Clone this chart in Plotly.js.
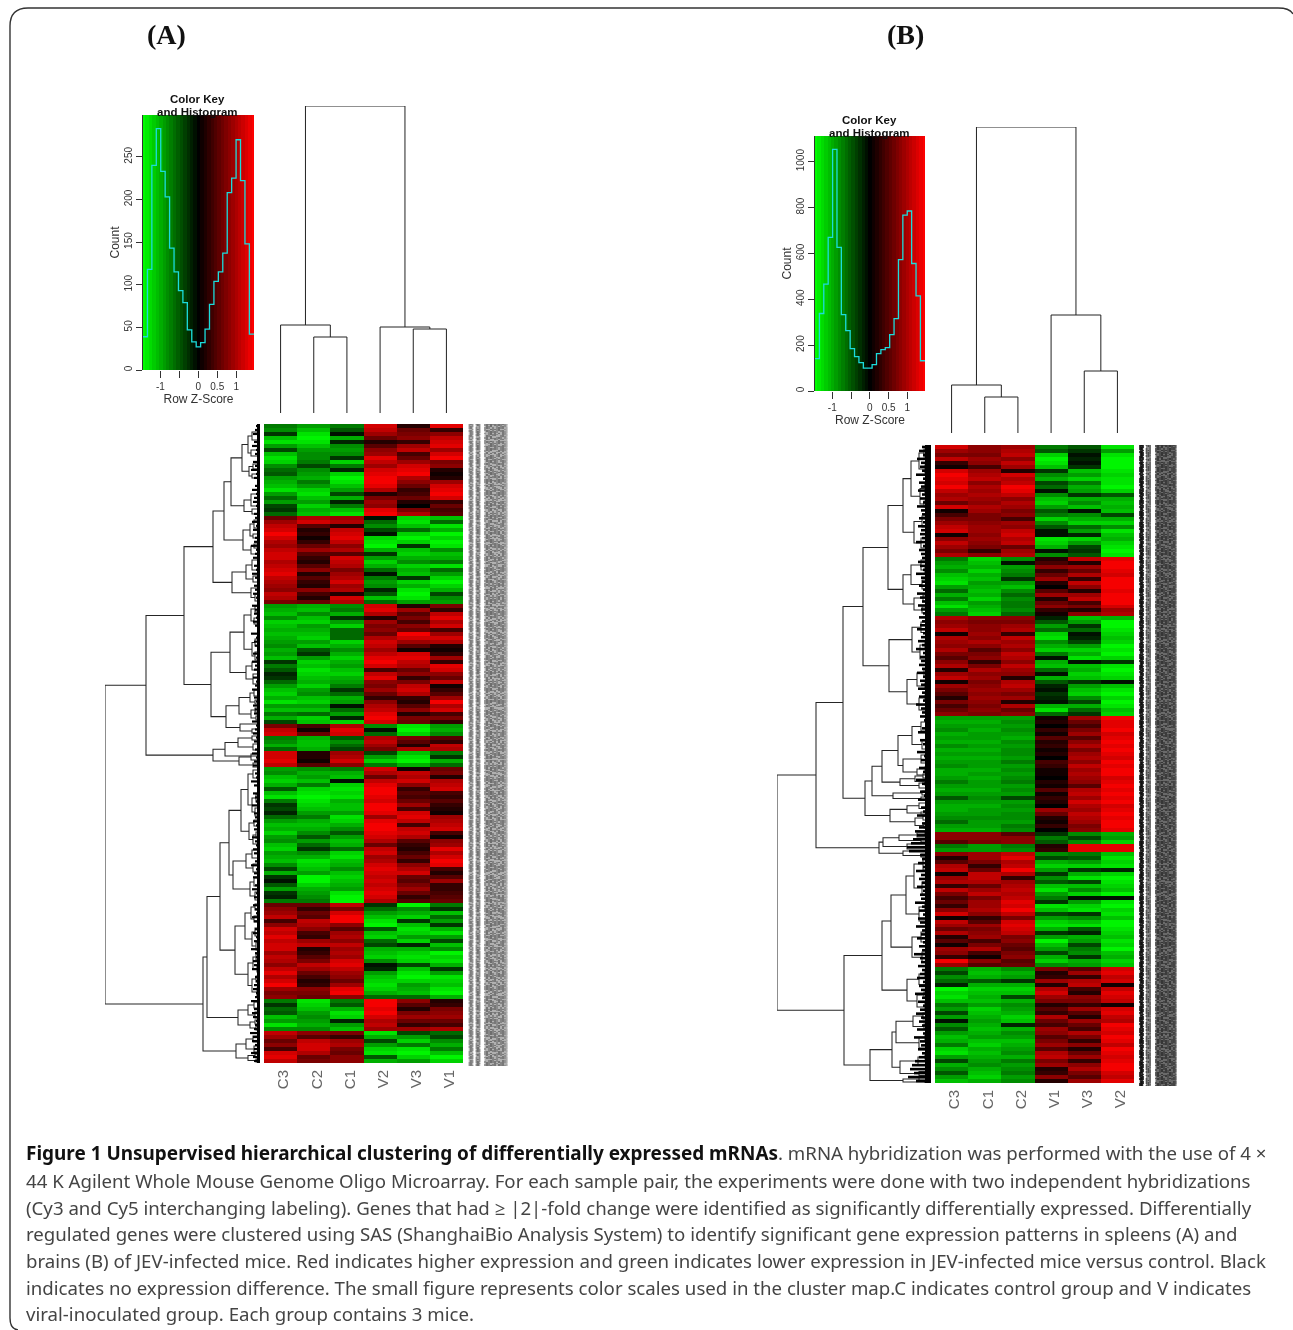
<!DOCTYPE html>
<html><head><meta charset="utf-8">
<script src="https://cdn.plot.ly/plotly-3.0.1.min.js"></script>
<style>html,body{margin:0;padding:0;background:#fff;overflow:hidden}#chart{width:1293px;height:1330px;filter:blur(0.45px)}</style>
</head><body><div id="chart"></div>
<script>
// ---------- sample names ----------
const samplesA = ["C3","C2","C1","V2","V3","V1"];
const samplesB = ["C3","C1","C2","V1","V3","V2"];

// ---------- heat map A, tenths of a row z-score, one line per cluster block ----------
const a_C3 = [
-7,-8,-3,-11,-13,-9,-4,-11,-13,-12,-8,-6,-5,-9,-10,-11,-13,-9,-6,-9,-4,-3,-6,
6,9,11,12,14,12,10,9,11,12,12,10,11,12,13,11,10,9,8,11,10,7,
-9,-10,-11,-8,-12,-11,-10,-11,-10,-9,-8,-10,-9,-11,-3,-7,-5,-2,-3,-6,-9,-11,-12,-10,-13,-9,-11,-7,-10,-4,
7,11,12,
-7,-8,-10,-6,
12,12,13,11,
-9,-8,-11,-12,-10,-5,-11,-13,-7,-3,-4,-2,-6,-9,-11,-10,-12,-9,-8,-11,-12,-9,-10,-11,-8,-4,-10,-3,-1,-5,-9,-3,-2,-7,
6,8,9,11,4,8,12,11,13,11,12,12,9,11,10,8,11,13,10,12,14,9,7,8,
-7,-3,-6,-5,-11,-9,-13,-8,
11,9,6,8,4,12,13,11];
const a_C2 = [
-9,-11,-13,-14,-13,-11,-9,-8,-8,-7,-4,-8,-9,-10,-7,-9,-12,-13,-11,-9,-12,-10,-11,
10,12,5,2,3,1,3,6,9,5,3,2,5,8,2,5,3,2,8,4,2,6,
-10,-11,-8,-11,-12,-9,-10,-11,-12,-9,-11,-5,-3,-9,-12,-11,-13,-12,-11,-10,-12,-9,-8,-11,-12,-9,-11,-6,-12,-11,
4,1,6,
-10,-11,-11,-10,
2,2,1,5,
-8,-10,-9,-11,-7,-12,-13,-14,-13,-12,-11,-9,-7,-10,-11,-10,-8,-5,-9,-6,-3,-8,-10,-13,-12,-11,-9,-14,-14,-12,-10,-9,-8,-7,
6,3,6,5,11,10,8,4,3,9,11,2,3,5,7,11,9,6,4,2,3,8,7,6,
-13,-12,-11,-9,-8,-9,-10,-8,
8,5,11,12,12,10,6,7];
const a_C1 = [
-7,-5,-1,-10,-2,-8,-9,-8,-3,-12,-7,-2,-12,-14,-13,-11,-9,-4,-10,-2,-7,-11,-13,
9,10,2,11,12,13,11,8,10,5,12,11,10,7,9,10,12,9,10,2,12,10,
-8,-7,-10,-3,-9,-12,-6,-6,-6,-12,-10,-8,-10,-12,-10,-9,-11,-12,-10,-9,-7,-3,-6,-10,-9,-1,-6,-9,-2,-12,
10,13,12,
-5,-8,-6,-4,
9,10,12,8,
-7,-10,-11,-1,-12,-13,-12,-13,-10,-11,-11,-9,-13,-12,-10,-8,-5,-9,-11,-10,-6,-12,-13,-11,-10,-8,-11,-12,-11,-10,-9,-13,-14,-14,
11,7,12,14,14,8,5,9,10,8,11,9,10,9,12,13,11,9,8,6,9,13,14,8,
-7,-5,-10,-13,-12,-2,-9,-11,
7,3,9,10,7,6,8,8];
const a_V2 = [
12,11,9,6,2,5,8,9,13,11,9,12,13,14,14,13,10,2,7,9,8,13,14,
-1,-6,-8,-4,-1,-12,-13,-14,-10,-3,-9,-12,-10,-6,-1,-7,-9,-8,-2,-5,-11,-6,
12,13,10,2,9,7,8,6,10,12,11,9,11,13,14,12,4,11,13,8,7,9,6,3,8,10,11,13,14,12,
-8,-1,-6,
10,11,9,7,
-4,-9,-12,-7,
12,10,6,11,13,14,14,13,12,14,14,13,9,13,14,14,13,12,10,6,11,12,9,10,12,13,12,11,12,11,12,13,12,10,
-3,-6,-9,-11,-13,-14,-5,-11,-12,-6,-4,-10,-11,-12,-8,-1,-2,-9,-11,-12,-13,-12,-10,-6,
14,14,13,14,12,10,11,9,
-13,-10,-4,-9,-12,-13,-5,-10];
const a_V3 = [
2,6,7,8,3,9,11,4,6,9,12,13,14,10,8,6,3,4,6,2,0,7,10,
-12,-13,-11,-6,-12,-14,-12,-3,-11,-12,-10,-8,-12,-10,-11,-3,-12,-10,-13,-14,-13,-9,
2,9,5,7,4,8,6,14,12,9,5,1,12,13,11,10,6,8,3,7,11,12,10,3,2,5,8,2,7,6,
-13,-14,-12,
7,5,2,10,
-11,-13,-14,-10,
1,11,10,12,8,3,5,4,6,9,4,12,13,11,4,11,12,10,5,3,2,4,6,3,8,10,12,6,5,7,9,6,3,5,
-14,-8,-10,-12,-3,-11,-13,-12,-9,-12,-2,-10,-12,-13,-12,-4,-11,-13,-14,-12,-9,-10,-11,-6,
8,5,2,7,9,6,3,9,
-4,-9,-12,-7,-13,-14,-12,-9];
const a_V1 = [
13,3,8,11,12,13,9,12,14,7,8,2,1,2,9,12,13,14,12,3,6,4,5,
-11,-6,-13,-10,-14,-12,-14,-13,-8,-11,-10,-7,-13,-6,-9,-12,-14,-12,-10,-4,-8,-9,
7,3,11,13,10,12,4,9,12,10,2,1,3,9,3,13,12,8,6,11,1,3,5,9,14,10,12,4,7,3,
-9,-10,-8,
5,3,11,10,
-7,-3,-10,-6,
6,7,2,10,11,12,4,3,5,3,2,1,9,10,11,12,4,1,8,9,13,10,12,14,13,4,2,5,9,3,3,4,5,6,
-7,-3,-11,-6,-9,-3,-10,-13,-9,-4,-11,-8,-14,-12,-13,-10,-3,-9,-13,-12,-11,-13,-14,-10,
2,3,7,8,9,6,4,10,
-6,-4,-8,-10,-7,-11,-14,-12];

// ---------- heat map B ----------
const b_C3 = [
12,9,7,11,3,1,12,14,13,12,14,11,9,10,6,12,1,4,7,9,11,12,1,8,11,9,7,10,
-7,-9,-10,-8,-11,-12,-13,-9,-6,-10,-7,-11,-13,-9,-7,
10,8,9,11,1,10,9,8,10,7,5,8,10,2,9,11,1,9,7,5,2,7,4,6,8,
-9,-10,-9,-8,-10,-9,-10,-8,-10,-9,-10,-9,-8,-10,-10,-9,-7,-9,-10,-9,-5,-9,-10,-10,-9,-8,-6,-9,-10,
8,8,5,
-7,-9,
8,2,5,10,11,1,9,10,3,11,7,4,6,3,8,12,1,11,9,6,10,2,5,1,9,8,3,14,9,
-7,-4,-8,-6,-2,-14,-12,-13,-11,-7,-9,-4,-9,-1,-8,-5,-9,-11,-10,-7,-12,-13,-9,-4,-10,-8,-5,-9,-11];
const b_C1 = [
8,8,7,9,8,4,9,10,11,8,10,9,10,9,8,10,9,7,7,8,9,9,8,9,8,7,3,8,
-12,-11,-10,-12,-10,-11,-9,-10,-11,-10,-12,-9,-10,-11,-12,
8,7,8,8,9,8,10,8,5,7,8,3,7,10,8,9,7,8,9,8,9,8,7,8,7,
-9,-10,-9,-10,-9,-9,-10,-9,-10,-9,-10,-9,-9,-10,-9,-10,-9,-9,-10,-9,-8,-9,-10,-9,-9,-8,-9,-9,-10,
8,8,7,
-9,-9,
9,9,7,3,6,11,11,10,6,9,11,7,9,9,10,8,3,5,9,7,8,9,4,7,10,4,1,8,5,
-10,-11,-10,-5,-10,-12,-11,-10,-11,-9,-12,-11,-10,-9,-10,-11,-10,-9,-11,-12,-10,-11,-10,-9,-8,-10,-11,-12,-10];
const b_C2 = [
9,10,11,8,11,9,2,12,10,11,14,13,11,8,10,9,7,8,4,9,8,11,12,10,11,6,9,10,
-8,-1,-9,-8,-7,-3,-9,-11,-8,-6,-8,-7,-7,-8,-6,
8,7,9,10,3,11,9,10,8,11,10,8,11,9,8,2,10,11,9,7,9,2,10,6,8,
-9,-8,-9,-8,-9,-10,-8,-9,-8,-8,-9,-7,-9,-8,-9,-8,-7,-9,-8,-9,-4,-9,-8,-9,-8,-8,-9,-7,-8,
5,8,8,
-7,-8,
11,13,10,11,14,10,3,9,10,11,10,11,13,12,14,11,7,12,13,12,11,7,8,6,5,7,8,5,6,
-8,-10,-9,-3,-10,-12,-11,-4,-10,-8,-9,-10,-12,-11,-2,-10,-8,-9,-11,-10,-9,-8,-10,-7,-9,-8,-7,-9,-8];
const b_V1 = [
-7,-5,-12,-14,-13,-11,-3,-8,-10,-4,-6,-1,-8,-11,-12,-9,-5,-7,-12,-8,-5,-1,-1,-13,-12,-10,-1,-8,
2,4,8,3,6,9,2,0,5,9,2,6,8,3,1,
-2,-5,-9,-6,-12,-13,-8,-10,-12,-7,-1,-10,-11,-6,-1,-10,-5,-2,-1,-3,-2,-1,-10,-13,-6,
1,2,0,3,1,5,2,3,1,2,0,4,3,1,1,0,2,1,5,1,3,2,0,9,6,2,1,3,0,
-3,-7,-5,
2,3,
-8,-4,-10,-12,-9,-3,-8,-5,-11,-13,-9,-7,-3,-13,-11,-4,-9,-12,-13,-10,-3,-9,-14,-11,-9,-4,-10,-12,-8,
7,2,3,9,2,10,12,9,7,2,5,3,10,6,4,9,8,5,7,9,5,10,11,7,9,2,3,8,2];
const b_V3 = [
-5,-3,-1,-2,-1,-3,-11,-9,-12,-7,-10,-9,-3,-10,-8,-11,-1,-8,-10,-12,-6,-9,-2,-12,-9,-4,-3,-5,
11,2,9,6,10,3,11,8,2,9,11,4,7,2,8,
-11,-9,-3,-6,-1,-2,-4,-9,-12,-10,-13,-1,-11,-10,-12,-11,-3,-9,-11,-12,-8,-4,-10,-6,-3,
9,6,4,7,9,5,8,10,7,9,10,8,11,9,10,9,8,5,10,11,9,12,10,9,11,10,9,7,8,
-8,-4,-8,
13,13,
-7,-5,-9,-12,-3,-10,-13,-4,-11,-8,-12,-1,-9,-12,-13,-3,-8,-11,-13,-5,-2,-10,-9,-4,-7,-8,-3,-10,-9,
5,9,3,10,11,4,2,8,7,3,9,5,2,9,6,4,10,7,3,8,2,6,9,3,8,10,7,5,9];
const b_V2 = [
-13,-9,-13,-14,-14,-14,-13,-12,-13,-13,-14,-12,-5,-10,-11,-10,-11,-4,-10,-12,-8,-13,-11,-10,-12,-13,-14,-13,
13,14,14,13,12,14,14,14,13,14,14,14,12,9,10,
-10,-14,-14,-13,-12,-11,-12,-14,-13,-14,-12,-3,-13,-14,-13,-12,-1,-11,-13,-14,-12,-14,-13,-11,-12,
14,13,13,14,12,13,14,13,14,13,12,14,13,14,14,12,13,14,13,14,13,14,12,13,14,13,14,14,13,
-10,-9,-12,
13,13,
-11,-13,-12,-13,-2,-12,-14,-13,-12,-11,-14,-1,-13,-14,-12,-13,-11,-14,-14,-13,-12,-11,-13,-12,-14,-11,-10,-12,-11,
12,13,11,12,1,11,13,12,11,1,12,13,11,10,14,13,12,14,13,11,14,13,12,13,14,14,12,11,13];

// ---------- colour key histograms (25 bins) ----------
const histA = [39,118,240,283,233,203,143,115,93,79,47,33,27,32,48,77,104,115,137,208,225,270,222,148,42];
const histB = [141,338,466,670,1054,626,333,263,185,150,124,100,100,115,163,180,189,246,316,573,767,785,556,415,132];
const histEdges = [-1.46,-1.343,-1.226,-1.109,-0.992,-0.875,-0.758,-0.641,-0.524,-0.407,-0.29,-0.173,-0.056,0.061,0.178,0.295,0.412,0.529,0.646,0.763,0.88,0.997,1.114,1.231,1.348,1.47];
const keySteps = [-1.44,-1.35,-1.26,-1.17,-1.08,-0.99,-0.9,-0.81,-0.72,-0.63,-0.54,-0.45,-0.36,-0.27,-0.18,-0.09,0,0.09,0.18,0.27,0.36,0.45,0.54,0.63,0.72,0.81,0.9,0.99,1.08,1.17,1.26,1.35,1.44];

// ---------- dendrograms: [height, child, child]; a number is a leaf position ----------
const colTreeA = [307,[88,0,[76,1,2]],[86,3,[84,4,5]]];
const colTreeB = [306,[48,0,[36,1,2]],[118,3,[62,4,5]]];

const rowTreeA = [155,
 [114,
  [76,
   [47,
    [36,
     [29,
      [18,[12,[8,8,16],[9,26,32]],[11,[7,40,45],[8,50,54]]],
      [16,[9,70,82],[8,85,90]]],
     [17,[10,[6,96,104],[7,110,114]],[9,[6,120,124],130]]],
    [28,[14,[8,136,146],[7,152,158]],[9,164,[5,170,177]]]],
   [49,
    [30,
     [16,[9,[5,182,188],[6,194,200]],[8,[5,215,222],[5,228,236]]],
     [14,[8,238,246],[7,250,260]]],
    [34,
     [21,[10,[6,266,272],[5,276,280]],[9,[5,284,288],[4,292,296]]],
     [20,300,[8,305,309]]]]],
  [47,
   [35,[22,[8,312,316],[7,320,326]],332],
   [21,[9,330,336],[7,339,343]]]],
 [57,
  [53,
   [40,
    [31,
     [19,
      [12,[7,346,354],[8,[4,370,378],[5,384,392]]],
      [11,[6,396,402],[7,[4,408,414],420]]],
     [27,
      [14,[8,426,434],[7,440,448]],
      [10,[6,454,462],[5,468,476]]]],
    [25,
     [15,[9,[5,480,486],[6,492,498]],[8,[5,504,512],[4,518,526]]],
     [12,[7,[4,530,536],[3,542,548]],[8,[4,552,558],[3,564,572]]]]],
   [22,[12,[6,578,584],[5,588,594]],[10,[5,596,600],[4,602,606]]]],
  [24,[14,[7,612,618],[6,622,628]],[12,[5,630,633],[4,635,638]]]]];

const rowTreeB = [154,
 [115,
  [88,
   [68,
    [43,
     [28,
      [20,[12,[7,[4,2,6],[3,10,14]],[6,20,28]],[11,[6,[3,36,42],48],[7,56,62]]],
      [17,[9,[5,68,74],[4,80,84]],[10,[5,90,96],[4,100,106]]]],
     [28,
      [20,[10,[5,112,118],[6,122,128]],[9,[4,132,138],[5,142,146]]],
      [17,[8,150,156],[9,[4,160,164],168]]]],
    [42,
     [19,[10,[5,174,180],[4,185,190]],[11,[6,196,204],[5,210,218]]],
     [24,[14,[7,224,232],[6,238,244]],[12,[6,250,256],[5,262,268]]]]],
   [66,
    [59,
     [49,
      [33,
       [19,[10,[5,274,280],[4,284,288]],[9,[4,292,298],[5,302,306]]],
       [28,[10,[5,308,312],[4,316,320]],[14,[6,322,326],[5,328,332]]]],
      [31,[16,[8,329,333],[6,335,338]],[12,[6,336,340],[5,342,344]]]],
     [38,[9,[4,345,347],[5,349,351]],[10,[3,351,353],[5,354,356]]]],
    [41,
     [24,[12,[5,356,360],[4,362,365]],[10,367,369]],
     [16,[8,371,375],[7,378,383]]]]],
  [52,
   [48,
    [32,[14,[6,387,389],[5,391,393]],[10,394,397]],
    [24,399,[5,402,406]]],
   [28,406,[10,[4,408,410],412]]]],
 [87,
  [49,
   [40,
    [25,[17,[8,[4,410,416],[3,422,428]],[9,[5,434,440],[4,446,452]]],[12,[6,458,466],[5,472,480]]],
    [19,[10,[5,484,490],[4,494,500]],[9,[4,504,510],[5,514,521]]]],
   [24,[12,[6,526,532],[5,537,542]],[14,[7,547,553],[6,558,566]]]],
  [61,
   [39,
    [35,[18,[8,568,574],[7,579,584]],[12,[6,590,595],[5,600,606]]],
    [31,[13,[6,610,614],[5,618,622]],[12,[5,625,628],[5,629,632]]]],
   [28,[12,633,635],[6,636,638]]]]];

// length of the finest leaf twigs beside each heat-map row
const twigsA = [4,5,7,3,6,8,4,5,3,7,5,9,4,6,3,5,8,4,6,7,
 4,3,6,5,8,4,7,3,5,6,9,4,5,7,3,6,4,8,5,3,
 6,5,7,4,3,8,5,6,4,7,5,3,9,4,6,5,3,7,4,8,
 5,6,3,7,4,5,8,3,6,4,7,5,6,3,8,4,5,7,4,6,
 3,5,8,4,6,7,3,5,4,9,6,3,7,5,4,8,3,6,5,7,
 4,6,3,8,5,4,7,6,3,5,9,4,6,7,3,5,8,4,6,3,
 7,5,4,8,6,3,5,7,4,6,3,9,5,4,7,6,8,3,5,4,
 6,7,4,5,9,3,6,8,7,4,5,6,10,7,8,5,6,9,7,6];
const twigsB = [9,12,8,14,10,11,9,15,8,12,10,13,9,11,8,14,10,9,12,8,13,10,11,9,15,8,12,10,
 9,13,11,8,15,10,9,12,8,14,11,9,13,10,8,
 12,9,11,14,8,10,13,9,15,8,11,10,12,9,14,8,11,10,13,9,12,8,15,10,9,11,
 7,5,9,13,6,11,8,5,14,7,10,6,12,8,5,15,9,6,11,7,13,5,10,8,14,6,9,12,16,
 14,18,20,24,22,
 11,9,13,8,15,10,12,9,14,8,11,10,16,9,12,8,13,11,15,9,10,14,8,12,9,17,11,10,13,
 9,11,14,8,12,10,16,9,13,8,11,15,10,12,9,14,8,17,11,10,13,9,12,16,19,21,17,23,15];

// strips standing in for the illegibly small row labels: [offset, width in px, grey]
const labelBandsA = [[3,4.5,"#b4b4b4"],[10,4.5,"#aaaaaa"],[28,23,"#b0b0b0"]];
const labelBandsB = [[3.5,3.5,"#2e2e2e"],[10.5,5,"#8a8a8a"],[28,21,"#6a6a6a"]];
const labelColsA = [1.5,3,4.5, 8.5,10,11.5, 17,19,21,23,25,27,29,31,33,35,37,38.5];
const labelShadeA = ["#909090","#707070","#909090","#8a8a8a","#666","#8a8a8a","#8a8a8a","#666","#7c7c7c","#5e5e5e","#787878","#6a6a6a","#808080","#646464","#7a7a7a","#6c6c6c","#888","#aaa"];
const labelColsB = [2,3.5,5, 8.5,10.5,12, 18,20,22,24,26,28,30,32,34,36,37.5];
const labelShadeB = ["#1a1a1a","#111","#1a1a1a","#555","#4c4c4c","#666","#4a4a4a","#2e2e2e","#454545","#2a2a2a","#3e3e3e","#303030","#484848","#2c2c2c","#404040","#3a3a3a","#555"];
const labelDash = ["5px,1px,2px,3px","1px,1px,3px,1px,7px,2px","3px,2px,1px,1px,4px,1px","1px,2px,6px,1px,2px,2px","2px,3px,1px,1px,5px,2px","9px,1px,1px,2px,3px,1px","2px,1px,4px,2px,1px,3px"];

// ---------- text ----------
const captionLines = [
 '<span style="color:#111;font-size:18.95px"><b>Figure 1 Unsupervised hierarchical clustering of differentially expressed mRNAs</b></span>. mRNA hybridization was performed with the use of 4 ×',
 '44 K Agilent Whole Mouse Genome Oligo Microarray. For each sample pair, the experiments were done with two independent hybridizations',
 '(Cy3 and Cy5 interchanging labeling). Genes that had ≥ |2|-fold change were identified as significantly differentially expressed. Differentially',
 'regulated genes were clustered using SAS (ShanghaiBio Analysis System) to identify significant gene expression patterns in spleens (A) and',
 'brains (B) of JEV-infected mice. Red indicates higher expression and green indicates lower expression in JEV-infected mice versus control. Black',
 'indicates no expression difference. The small figure represents color scales used in the cluster map.C indicates control group and V indicates',
 'viral-inoculated group. Each group contains 3 mice.'];

// ---------- page geometry ----------
const W = 1293, H = 1330;
const hx = (a,b)=>[a/W,b/W];
const vy = (a,b)=>[1-b/H,1-a/H];
const px = v=>v/W, py = v=>1-v/H;
const scale = [[0,'rgb(0,255,0)'],[0.5,'rgb(0,0,0)'],[1,'rgb(255,0,0)']];
const blank = {showgrid:false,zeroline:false,showticklabels:false,ticks:'',showline:false,fixedrange:true};
const keyFont = {family:'Liberation Sans, Arial, sans-serif',size:10,color:'#333'};

const traces = [];
const layout = {
  width:W,height:H,margin:{l:0,r:0,t:0,b:0},paper_bgcolor:'#fff',plot_bgcolor:'rgba(0,0,0,0)',
  showlegend:false,hovermode:false,annotations:[],shapes:[]
};
let axisNo = 0;
function addAxes(xa,ya){
  axisNo++;
  const s = axisNo===1?'':String(axisNo);
  layout['xaxis'+s] = Object.assign({anchor:'y'+s},xa);
  layout['yaxis'+s] = Object.assign({anchor:'x'+s},ya);
  return {xaxis:'x'+s,yaxis:'y'+s};
}
// walk a typed tree, collect line segments
function walk(node,fn){
  if(typeof node==='number') return {p:node,h:0};
  const a = walk(node[1],fn), b = walk(node[2],fn);
  fn(node[0],a,b);
  return {p:(a.p+b.p)/2,h:node[0]};
}
function panel(o){
  // colour key background + histogram
  const kAx = addAxes(
    {domain:hx(o.kx0,o.kx1),range:[-1.46,1.47],showgrid:false,zeroline:false,ticks:'outside',ticklen:7,tickwidth:1,tickcolor:'#333',
     tickvals:[-1,-0.5,0,0.5,1],ticktext:['-1','','0','0.5','1'],tickfont:keyFont,tickangle:0,
     title:{text:'Row Z-Score',font:{family:'Liberation Sans, Arial, sans-serif',size:12,color:'#333'},standoff:0}},
    {domain:vy(o.ky0,o.ky1),range:[0,o.kMax],showgrid:false,zeroline:false,ticks:'outside',ticklen:6,tickwidth:1,tickcolor:'#333',
     showline:true,linecolor:'#333',linewidth:1,tickvals:o.kTicks,tickfont:keyFont,tickangle:-90,
     title:{text:'Count',font:{family:'Liberation Sans, Arial, sans-serif',size:12,color:'#333'},standoff:0}});
  traces.push(Object.assign({type:'heatmap',x:keySteps,y:[0,o.kMax],z:[keySteps,keySteps],zmin:-1.46,zmax:1.46,colorscale:scale,showscale:false,hoverinfo:'skip'},kAx));
  const edgesY = o.hist.concat([o.hist[o.hist.length-1]]);
  traces.push(Object.assign({type:'scatter',mode:'lines',x:histEdges,y:edgesY,line:{color:'#1bdcdc',width:1.3,shape:'hv'},hoverinfo:'skip'},kAx));

  // column dendrogram
  const cAx = addAxes({domain:hx(o.hx0,o.hx1),range:[-0.5,5.5],...blank},{domain:vy(o.cy0,o.cy1),range:[0,o.cy1-o.cy0],...blank});
  let cx=[],cy=[];
  walk(o.colTree,(h,a,b)=>{cx.push(a.p,a.p,b.p,b.p,null);cy.push(a.h,h,h,b.h,null);});
  traces.push(Object.assign({type:'scatter',mode:'lines',x:cx,y:cy,line:{color:'#222',width:1},hoverinfo:'skip'},cAx));

  // row dendrogram
  const span = o.hy1-o.hy0;
  const rAx = addAxes({domain:hx(o.rx0,o.rx1),range:[o.rx1-o.rx0,0],...blank},{domain:vy(o.hy0,o.hy1),range:[span,0],...blank});
  let rx=[],ry=[];
  walk(o.rowTree,(h,a,b)=>{rx.push(a.h,h,h,b.h,null);ry.push(a.p,a.p,b.p,b.p,null);});
  traces.push(Object.assign({type:'scatter',mode:'lines',x:rx,y:ry,line:{color:'#262626',width:1.05},hoverinfo:'skip'},rAx));
  let tx=[],ty=[];
  const rowStep = span/o.twigs.length;
  o.twigs.forEach((t,i)=>{tx.push(0,t,null);ty.push((i+0.5)*rowStep,(i+0.5)*rowStep,null);});
  traces.push(Object.assign({type:'scatter',mode:'lines',x:tx,y:ty,line:{color:'#000',width:o.twigW},hoverinfo:'skip'},rAx));
  traces.push(Object.assign({type:'scatter',mode:'lines',x:[o.bandW/2,o.bandW/2],y:[0,span],line:{color:'#000',width:o.bandW},hoverinfo:'skip'},rAx));

  // heat map
  const hAx = addAxes(
    {domain:hx(o.hx0,o.hx1),range:[-0.5,5.5],showgrid:false,zeroline:false,ticks:'',tickvals:[0,1,2,3,4,5],ticktext:o.samples,tickangle:-90,
     ticklabelshift:3,ticklabelstandoff:3,
     tickfont:{family:'Liberation Sans, Arial, sans-serif',size:15,color:'#666'}},
    {domain:vy(o.hy0,o.hy1),range:[o.cols[0].length-0.5,-0.5],...blank});
  const rows = o.cols[0].map((_,r)=>o.cols.map(c=>c[r]));
  traces.push(Object.assign({type:'heatmap',z:rows,zmin:-14.6,zmax:14.6,colorscale:scale,showscale:false,hoverinfo:'skip'},hAx));

  // label strips
  const lAx = addAxes({domain:hx(o.lx0,o.lx0+40),range:[0,40],...blank},{domain:vy(o.hy0,o.hy1+3),range:[span+3,0],...blank});
  o.labBands.forEach(b=>{
    traces.push(Object.assign({type:'scatter',mode:'lines',x:[b[0],b[0]],y:[0,span+3],line:{color:b[2],width:b[1]},hoverinfo:'skip'},lAx));
  });
  o.labCols.forEach((c,i)=>{
    traces.push(Object.assign({type:'scatter',mode:'lines',x:[c,c],y:[0,span+3],
      line:{color:o.labShade[i],width:1.6,dash:labelDash[i%labelDash.length]},hoverinfo:'skip'},lAx));
  });

  // letter and key title
  const tf = {family:'Liberation Sans, Arial, sans-serif',size:11.5,color:'#111'};
  layout.annotations.push(
   {xref:'paper',yref:'paper',x:px(o.letterX),y:py(35),text:'<b>'+o.letter+'</b>',showarrow:false,xanchor:'center',yanchor:'middle',
    font:{family:'Liberation Serif, serif',size:28,color:'#111'}},
   {xref:'paper',yref:'paper',x:px((o.kx0+o.kx1)/2-1),y:py(o.ky0-16),text:'<b>Color Key</b>',showarrow:false,xanchor:'center',yanchor:'middle',font:tf},
   {xref:'paper',yref:'paper',x:px((o.kx0+o.kx1)/2-1),y:py(o.ky0-3),text:'<b>and Histogram</b>',showarrow:false,xanchor:'center',yanchor:'middle',font:tf});
}

panel({letter:'(A)',letterX:166,samples:samplesA,cols:[a_C3,a_C2,a_C1,a_V2,a_V3,a_V1],
  hist:histA,kMax:299,kTicks:[0,50,100,150,200,250],kx0:143,kx1:254,ky0:115,ky1:370,
  colTree:colTreeA,rowTree:rowTreeA,twigs:twigsA,twigW:2.2,bandW:3,
  hx0:264,hx1:463,cy0:106,cy1:413,rx0:105,rx1:260,hy0:424,hy1:1063,lx0:468,labCols:labelColsA,labShade:labelShadeA,labBands:labelBandsA});
panel({letter:'(B)',letterX:905,samples:samplesB,cols:[b_C3,b_C1,b_C2,b_V1,b_V3,b_V2],
  hist:histB,kMax:1112,kTicks:[0,200,400,600,800,1000],kx0:815,kx1:925,ky0:136,ky1:391,
  colTree:colTreeB,rowTree:rowTreeB,twigs:twigsB,twigW:2.6,bandW:6,
  hx0:935,hx1:1134,cy0:127,cy1:433,rx0:777,rx1:931,hy0:445,hy1:1083,lx0:1138,labCols:labelColsB,labShade:labelShadeB,labBands:labelBandsB});

// caption
const captionY = [1153,1180,1207,1233,1260,1287,1313];
captionLines.forEach((t,i)=>layout.annotations.push({xref:'paper',yref:'paper',x:px(24),y:py(captionY[i]),text:t,showarrow:false,
  xanchor:'left',yanchor:'middle',align:'left',font:{family:'Noto Sans, Open Sans, sans-serif',size:18.65,color:'#444'}}));

// page frame
const fx = v=>(v/W).toFixed(5), fy = v=>(1-v/H).toFixed(5);
layout.shapes.push({type:'path',xref:'paper',yref:'paper',line:{color:'#333',width:1.4},
  path:`M ${fx(18)} ${fy(1330)} Q ${fx(10)} ${fy(1329)} ${fx(10)} ${fy(1318)} L ${fx(10)} ${fy(26)} Q ${fx(10)} ${fy(8)} ${fx(28)} ${fy(8)} L ${fx(1278)} ${fy(8)} Q ${fx(1290)} ${fy(8)} ${fx(1293)} ${fy(14)}`});

Plotly.newPlot('chart',traces,layout,{staticPlot:true,displayModeBar:false});
</script></body></html>
